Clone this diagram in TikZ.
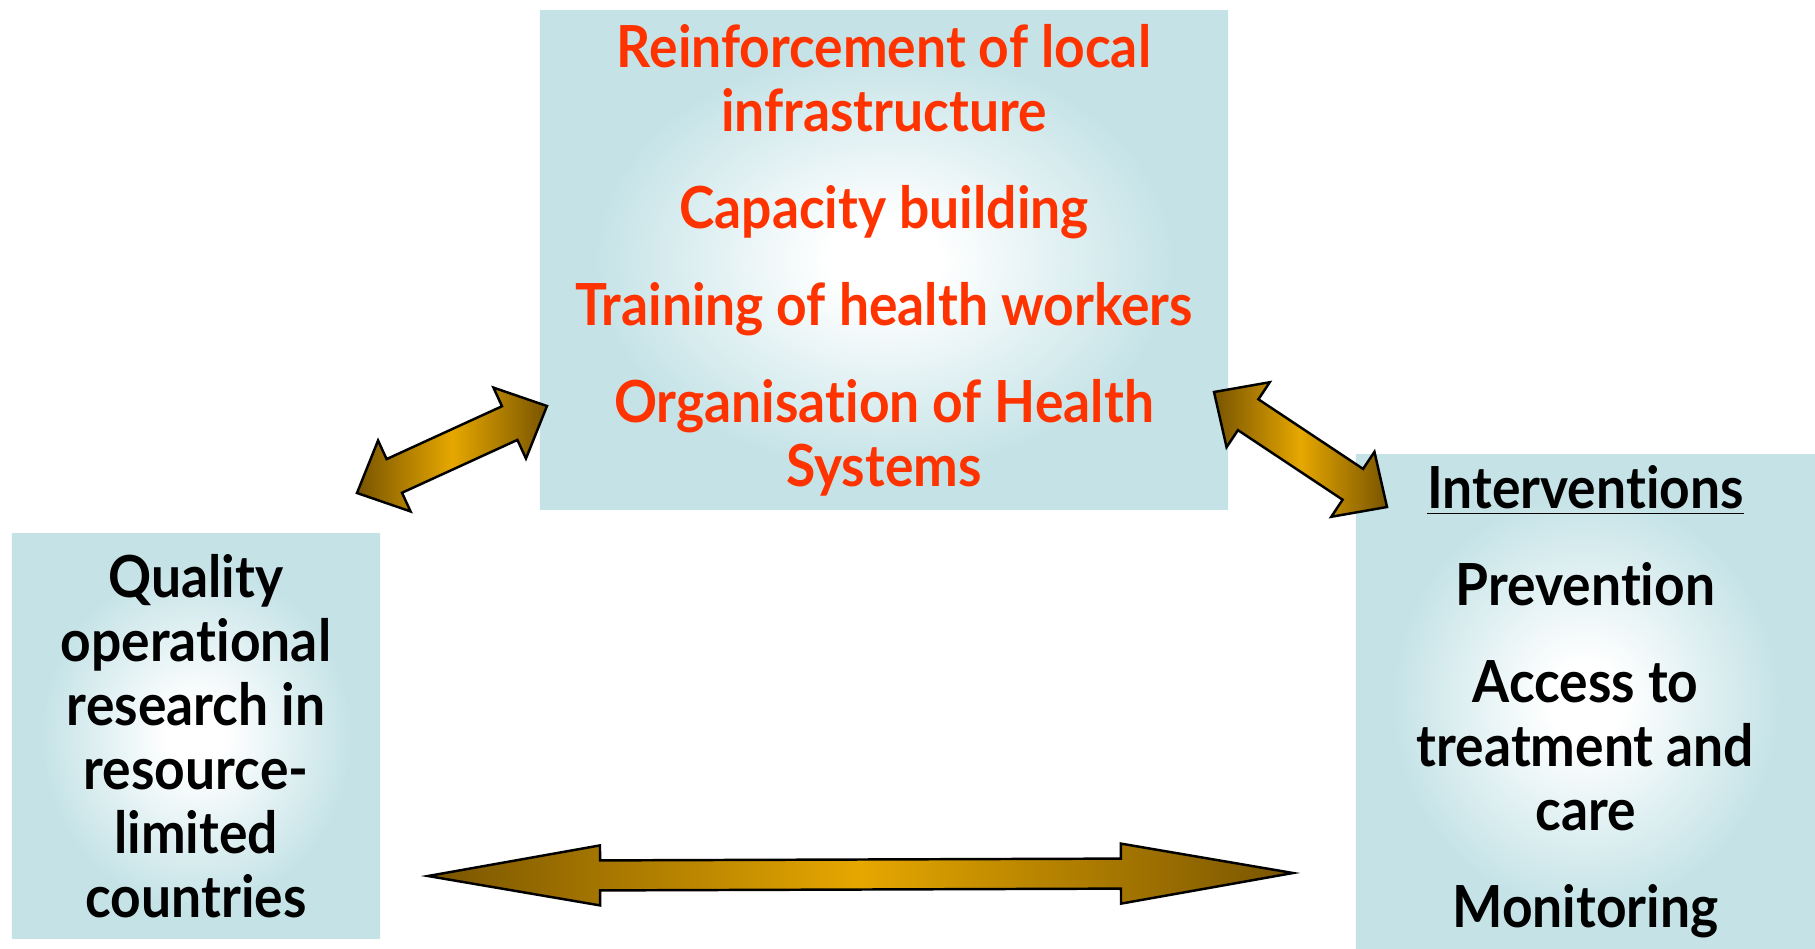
\documentclass[tikz,border=0pt]{standalone}
\usepackage{fontspec}
\setmainfont{Lato}[FakeStretch=0.92, Ligatures={NoCommon,NoDiscretionary}]
\usepackage{tikz}
\usetikzlibrary{calc}

\definecolor{boxcyan}{RGB}{197,227,231}
\definecolor{planred}{RGB}{255,51,0}
\definecolor{arrowbrown}{RGB}{120,84,0}
\definecolor{arrowgold}{RGB}{230,167,0}

\pgfdeclareradialshading{boxglow}{\pgfpoint{0bp}{0bp}}{color(0bp)=(white); color(4bp)=(white); color(21bp)=(boxcyan); color(50bp)=(boxcyan)}

\tikzset{
  panel/.style={shade, shading=boxglow, inner sep=0pt, align=center,
    font=\fontsize{16.5}{18.2}\selectfont\bfseries},
  goldbar/.style={draw=black, line width=0.7pt, line join=miter,
    left color=arrowbrown, right color=arrowbrown, middle color=arrowgold}
}

% #1,#2 tips, #3 head length, #4 head half width, #5 shaft half width
\newcommand{\goldarrow}[5]{%
\draw[goldbar] (#1)
  -- ($(#1)!#3!(#2)!#4!90:(#2)$) -- ($(#1)!#3!(#2)!#5!90:(#2)$)
  -- ($(#2)!#3!(#1)!#5!-90:(#1)$) -- ($(#2)!#3!(#1)!#4!-90:(#1)$)
  -- (#2)
  -- ($(#2)!#3!(#1)!#4!90:(#1)$) -- ($(#2)!#3!(#1)!#5!90:(#1)$)
  -- ($(#1)!#3!(#2)!#5!-90:(#2)$) -- ($(#1)!#3!(#2)!#4!-90:(#2)$)
  -- cycle;}

\begin{document}
\begin{tikzpicture}[x=0.01cm, y=-0.01cm]

\useasboundingbox (0,0) rectangle (1815,948);

\node[panel, text=planred, minimum width=6.88cm, minimum height=4.99cm] (support) at (884,260)
  {Reinforcement of local\\infrastructure\\[9.4pt]Capacity building\\[9.4pt]Training of health workers\\[9.4pt]Organisation of Health\\Systems};
\node[panel, minimum width=3.68cm, minimum height=4.04cm] (research) at (196,736)
  {Quality\\operational\\research in\\resource-\\limited\\countries};
\node[panel, minimum width=4.59cm, minimum height=4.93cm] (interv) at (1585.5,701.5)
  {\underline{Interventions}\\[9.4pt]Prevention\\[9.4pt]Access to\\treatment and\\care\\[9.4pt]Monitoring};

\coordinate(lA) at (357,493);
\coordinate(lB) at (547,406);
\coordinate(rA) at (1214,392);
\coordinate(rB) at (1387,507);
\coordinate(bA) at (428,876);
\coordinate(bB) at (1293,873);

\goldarrow{lA}{lB}{0.41cm}{0.39cm}{0.185cm}
\goldarrow{rA}{rB}{0.41cm}{0.39cm}{0.185cm}
\goldarrow{bA}{bB}{1.72cm}{0.30cm}{0.15cm}

\end{tikzpicture}
\end{document}
